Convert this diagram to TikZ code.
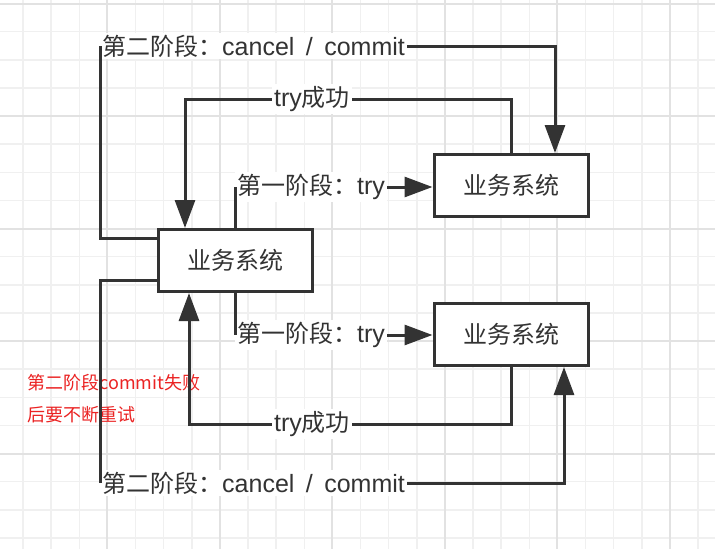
\documentclass[tikz,border=0pt]{standalone}
\usepackage{fontspec}
\setmainfont{Liberation Sans}[WordSpace=1.65]
\newfontfamily\cjk{Noto Sans CJK SC}[Scale=0.96]
\usetikzlibrary{arrows.meta}
\definecolor{gridminor}{RGB}{240,240,240}
\definecolor{gridmajor}{RGB}{226,226,226}
\definecolor{ink}{RGB}{51,51,51}
\definecolor{note}{RGB}{235,35,35}

\begin{document}
\begin{tikzpicture}[x=1pt, y=-1pt,
	sysbox/.style={draw=ink, line width=3pt, fill=white, minimum width=154pt, minimum height=62pt, inner sep=0pt, text=ink, font=\fontsize{25}{29}\selectfont\cjk},
	lbl/.style={fill=white, inner sep=2pt, text=ink, font=\fontsize{25}{29}\selectfont},
	wire/.style={draw=ink, line width=3pt},
	arr/.style={wire, -{Triangle[length=28pt, width=20pt]}}]
	\useasboundingbox (0,0) rectangle (715,549);
	\fill[white] (0,0) rectangle (715,549);
	% grid
	\foreach \i in {0,...,24}
	{
		\draw[gridminor, line width=1.5pt] (23+28.13*\i,0) -- (23+28.13*\i,549);
	}
	\foreach \j in {0,...,19}
	{
		\draw[gridminor, line width=1.5pt] (0,3.6+28.12*\j) -- (715,3.6+28.12*\j);
	}
	\foreach \i in {0,...,5}
	{
		\draw[gridmajor, line width=2pt] (107.4+112.5*\i,0) -- (107.4+112.5*\i,549);
	}
	\foreach \j in {0,...,4}
	{
		\draw[gridmajor, line width=2pt] (0,3.6+112.5*\j) -- (715,3.6+112.5*\j);
	}
	% systems
	\node[sysbox] (mid) at (235,260.5) {业务系统};
	\node[sysbox] (up) at (511,185.5) {业务系统};
	\node[sysbox] (down) at (511,334.5) {业务系统};
	% labels
	\node[lbl, anchor=west] (cancelup) at (100,46) {{\cjk 第二阶段：}cancel / commit};
	\node[lbl] (okup) at (312,99) {try{\cjk 成功}};
	\node[lbl, anchor=west] (tryup) at (235,187) {{\cjk 第一阶段：}try};
	\node[lbl, anchor=west] (trydown) at (235,335) {{\cjk 第一阶段：}try};
	\node[lbl] (okdown) at (312,424) {try{\cjk 成功}};
	\node[lbl, anchor=west] (canceldown) at (100,483) {{\cjk 第二阶段：}cancel / commit};
	\node[anchor=west, text=note, font=\fontsize{18.75}{32}\selectfont\cjk, align=left] (retry) at (24,399) {第二阶段commit失败\\后要不断重试};
	% upper system
	\draw[wire] ([yshift=-10.5pt]mid.north west) -| (cancelup.west);
	\draw[arr] (cancelup.east) -| ([xshift=44pt]up.north);
	\draw[wire] (up.north) |- (okup.east);
	\draw[arr] (okup.west) -| ([xshift=-50pt]mid.north);
	\draw[wire] (mid.north) -- (tryup.west);
	\draw[arr] (tryup.east) -- (tryup.east -| up.west);
	% lower system
	\draw[wire] (mid.south) -- (trydown.west);
	\draw[arr] (trydown.east) -- (trydown.east -| down.west);
	\draw[wire] (down.south) |- (okdown.east);
	\draw[arr] (okdown.west) -| ([xshift=-46pt]mid.south);
	\draw[wire] ([yshift=12.5pt]mid.south west) -| (canceldown.west);
	\draw[arr] (canceldown.east) -| ([xshift=53pt]down.south);
\end{tikzpicture}
\end{document}
